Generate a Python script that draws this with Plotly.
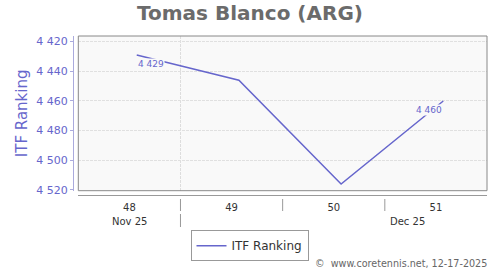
import plotly.graph_objects as go

# ---- data ----
weeks = [48, 49, 50, 51]
ranking = [4429, 4446, 4516, 4460]
week_labels = ["48", "49", "50", "51"]
month_labels = ["Nov 25", "Dec 25"]
month_pos = [48.0, 50.72]
y_ticks = [4420, 4440, 4460, 4480, 4500, 4520]
labelled_idx = [0, 3]

SERIES = "#6666cc"
FONT = "DejaVu Sans"

def fmt(v):
    s = f"{v:,}"
    return s.replace(",", " ")

x_pts = [w + 0.072 for w in weeks]

fig = go.Figure()
fig.add_trace(go.Scatter(
    x=x_pts, y=ranking, mode="lines", name="ITF Ranking",
    line=dict(color=SERIES, width=1.5), hoverinfo="skip",
))

W, H = 500, 270
ml, mr, mt, mb = 73, 13, 36, 75
pw = W - ml - mr
ph = H - mt - mb
xd0 = (78.3 - ml) / pw
yd0 = (195 - 190.7) / ph

def py(pix):
    return (H - mb - pix) / ph

shapes = []
# plot frame
shapes.append(dict(type="rect", xref="paper", yref="paper", x0=xd0, x1=1, y0=yd0, y1=1,
                   line=dict(color="#888888", width=1), fillcolor="rgba(0,0,0,0)", layer="above"))
# tick marks between weeks
for b in [48.5, 49.5, 50.5]:
    shapes.append(dict(type="line", xref="x", yref="paper", x0=b, x1=b, y0=py(199), y1=py(211),
                       line=dict(color="#999999", width=1)))
# month divider
shapes.append(dict(type="line", xref="x", yref="paper", x0=48.5, x1=48.5, y0=py(214), y1=py(227),
                   line=dict(color="#999999", width=1)))

annotations = []
for i, (lab, xp) in enumerate(zip(month_labels, month_pos)):
    annotations.append(dict(text=lab, x=xp, xref="x", y=py(221.2), yref="paper",
                            showarrow=False, xanchor="center", yanchor="middle",
                            font=dict(family=FONT, size=10, color="#333333")))
for k, i in enumerate(labelled_idx):
    annotations.append(dict(text=fmt(ranking[i]), x=x_pts[i], y=ranking[i], xref="x", yref="y",
                            showarrow=False, xanchor="left" if k == 0 else "right",
                            yanchor="middle", yshift=-9.5, bgcolor="#f9f9f9", borderpad=0,
                            font=dict(family=FONT, size=9, color=SERIES)))
annotations.append(dict(text="©  www.coretennis.net, 12-17-2025", xref="paper", yref="paper",
                        x=(489 - ml) / pw, y=py(263.3), xanchor="right", yanchor="middle",
                        showarrow=False, font=dict(family=FONT, size=9.6, color="#666666")))

fig.update_layout(
    width=W, height=H,
    margin=dict(l=ml, r=mr, t=mt, b=mb, pad=0),
    paper_bgcolor="#ffffff",
    plot_bgcolor="#f9f9f9",
    font=dict(family=FONT),
    title=dict(text="<b>Tomas Blanco (ARG)</b>", x=0.5, xref="container", xanchor="center",
               y=1 - 13 / H, yref="container", yanchor="middle",
               font=dict(family=FONT, size=20, color="#6b6b6b")),
    xaxis=dict(domain=[xd0, 1], range=[47.5, 51.5], anchor="free", position=0,
               tickmode="array", tickvals=weeks, ticktext=week_labels, ticks="",
               showline=True, linecolor="#999999", linewidth=1, showgrid=False, zeroline=False,
               tickfont=dict(family=FONT, size=10, color="#333333"), ticklabelstandoff=3,
               minor=dict(tickmode="array", tickvals=[48.5], showgrid=True, griddash="3px,1px",
                          gridcolor="#dddddd", gridwidth=1, ticks="")),
    yaxis=dict(domain=[yd0, 1], range=[4520.5, 4416.2], anchor="free", position=0,
               tickmode="array", tickvals=y_ticks, ticktext=[fmt(v) for v in y_ticks],
               ticks="outside", ticklen=3, tickcolor="#aaaadd", tickwidth=1,
               showline=True, linecolor="#aaaadd", linewidth=1,
               showgrid=True, gridcolor="#e0e0e0", griddash="3px,1px", gridwidth=1, zeroline=False,
               tickfont=dict(family=FONT, size=11, color=SERIES),
               title=dict(text="ITF Ranking", standoff=4, font=dict(family=FONT, size=15, color=SERIES))),
    showlegend=True,
    legend=dict(orientation="h", xref="container", yref="container", x=0.499, y=1 - 245.7 / H,
                xanchor="center", yanchor="middle", bgcolor="#ffffff", bordercolor="#999999",
                borderwidth=1, font=dict(family=FONT, size=12, color="#333333")),
    shapes=shapes,
    annotations=annotations,
)

fig.write_html("out.html")
